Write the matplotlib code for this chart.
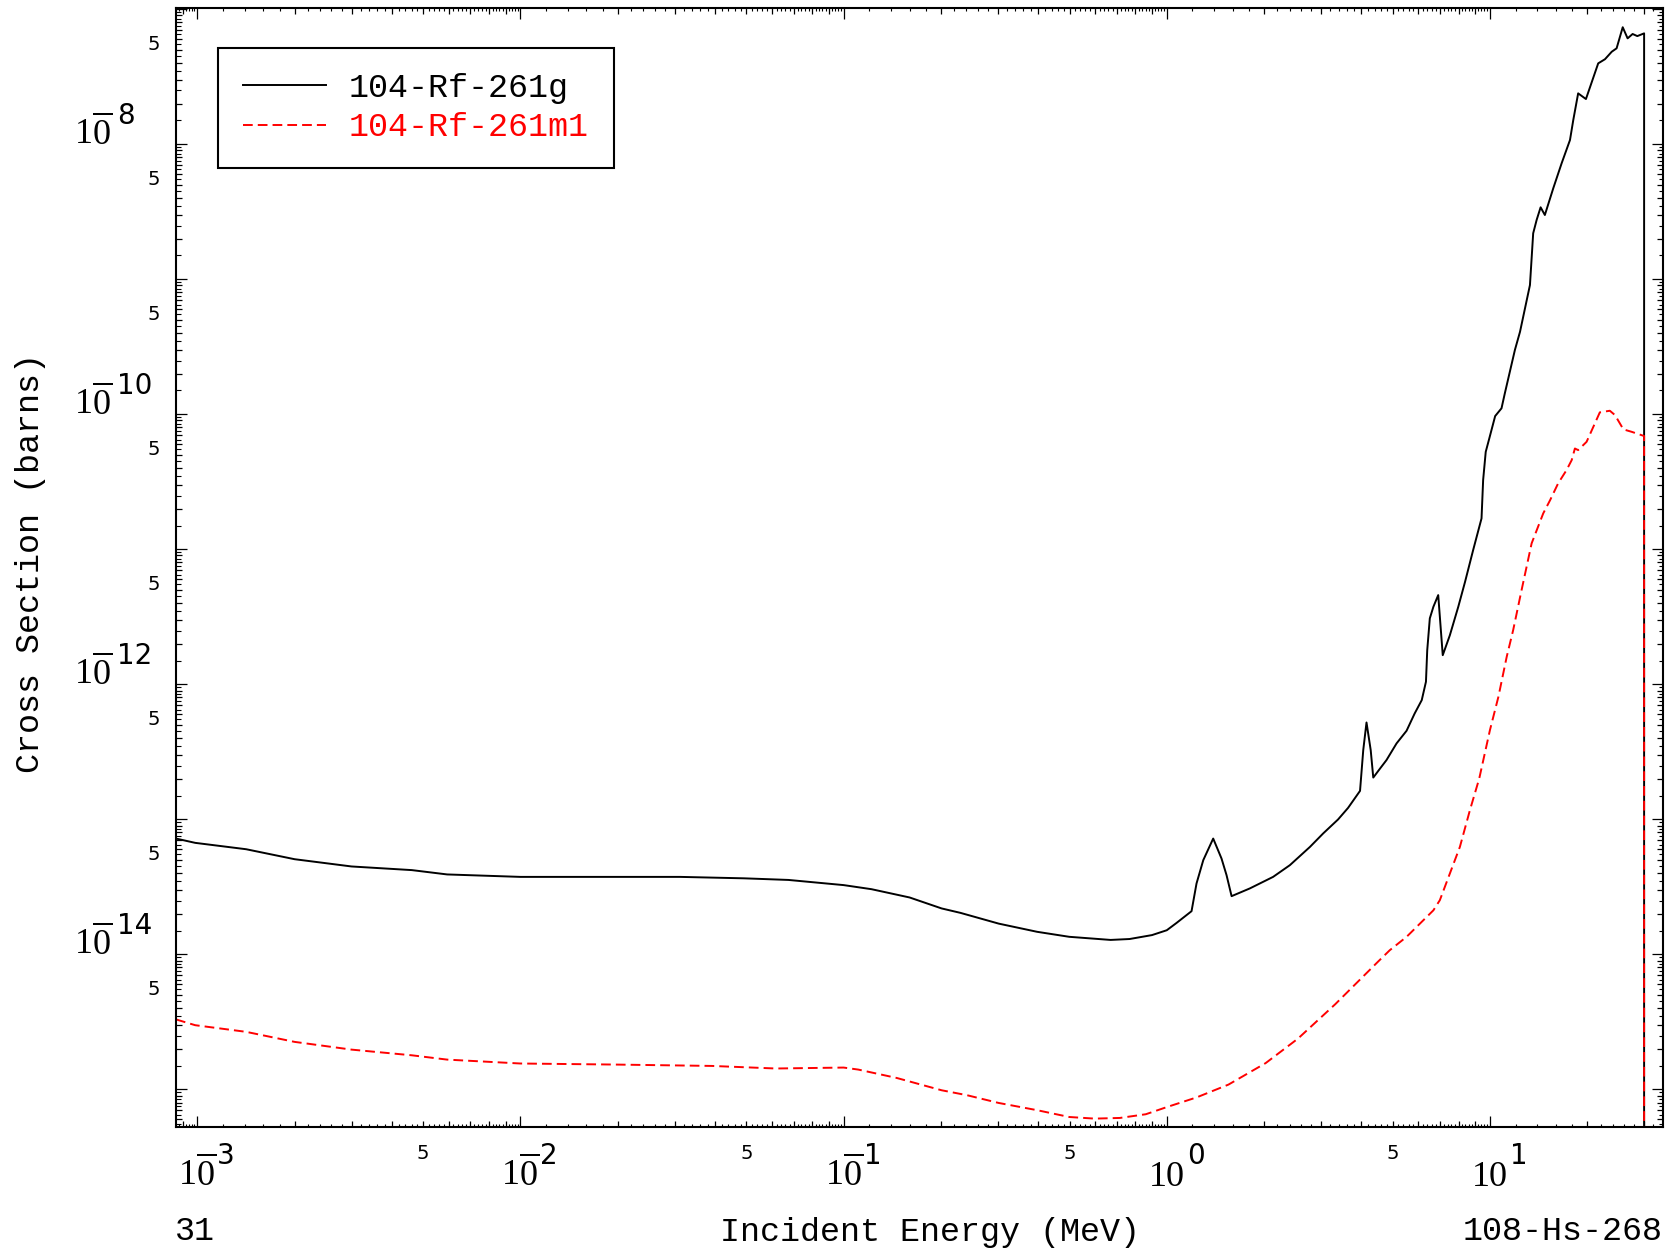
import matplotlib
matplotlib.use('Agg')
import matplotlib.pyplot as plt
from matplotlib.transforms import offset_copy, blended_transform_factory
from matplotlib.ticker import FixedLocator, NullLocator, NullFormatter

# ---------------- data ----------------
energy_g = [8.59e-4, 9.85e-4, 1.416e-3, 2.00e-3, 3.00e-3, 4.61e-3, 5.93e-3, 1.0e-2,
            1.574e-2, 3.12e-2, 4.91e-2, 6.75e-2, 0.100, 0.122, 0.160, 0.201, 0.230,
            0.302, 0.397, 0.499, 0.670, 0.767, 0.900, 1.00, 1.072, 1.193, 1.236,
            1.297, 1.392, 1.477, 1.531, 1.587, 1.807, 2.133, 2.404, 2.773, 3.048,
            3.388, 3.639, 3.963, 4.055, 4.150, 4.276, 4.355, 4.571, 4.786, 5.140,
            5.521, 5.848, 6.152, 6.339, 6.397, 6.516, 6.683, 6.918, 7.145, 7.516,
            7.980, 8.375, 8.872, 9.419, 9.528, 9.705, 9.954, 10.38, 10.86, 11.12,
            11.95, 12.39, 13.30, 13.61, 13.95, 14.35, 14.79, 15.70, 16.67, 17.69,
            18.11, 18.75, 19.82, 21.63, 22.70, 23.82, 24.66, 25.76, 26.67, 27.64,
            28.58, 30.0, 30.0]
xs_g = [7.21e-14, 6.70e-14, 6.01e-14, 5.07e-14, 4.48e-14, 4.21e-14, 3.91e-14, 3.75e-14,
        3.75e-14, 3.75e-14, 3.66e-14, 3.56e-14, 3.26e-14, 3.04e-14, 2.64e-14, 2.19e-14,
        2.03e-14, 1.69e-14, 1.47e-14, 1.35e-14, 1.28e-14, 1.30e-14, 1.39e-14, 1.51e-14,
        1.71e-14, 2.09e-14, 3.35e-14, 4.99e-14, 7.21e-14, 5.13e-14, 3.86e-14, 2.70e-14,
        3.08e-14, 3.75e-14, 4.58e-14, 6.25e-14, 7.87e-14, 9.98e-14, 1.216e-13,
        1.626e-13, 3.26e-13, 5.22e-13, 3.26e-13, 2.04e-13, 2.38e-13, 2.75e-13,
        3.65e-13, 4.53e-13, 6.08e-13, 7.64e-13, 1.045e-12, 1.79e-12, 3.08e-12,
        3.75e-12, 4.58e-12, 1.644e-12, 2.31e-12, 3.75e-12, 5.74e-12, 9.86e-12,
        1.694e-11, 3.26e-11, 5.27e-11, 6.62e-11, 9.70e-11, 1.107e-10, 1.429e-10,
        3.00e-10, 4.08e-10, 9.06e-10, 2.19e-9, 2.75e-9, 3.41e-9, 2.99e-9, 4.71e-9,
        7.23e-9, 1.074e-8, 1.510e-8, 2.38e-8, 2.16e-8, 3.97e-8, 4.26e-8, 4.84e-8,
        5.13e-8, 7.35e-8, 6.08e-8, 6.55e-8, 6.32e-8, 6.62e-8, 1e-20]

energy_m1 = [8.59e-4, 9.85e-4, 1.416e-3, 2.00e-3, 3.00e-3, 4.61e-3, 5.93e-3, 1.0e-2,
             1.977e-2, 3.91e-2, 6.17e-2, 0.100, 0.111, 0.146, 0.201, 0.241, 0.302,
             0.397, 0.499, 0.598, 0.716, 0.861, 1.00, 1.237, 1.552, 2.023, 2.547,
             3.319, 4.508, 4.898, 5.521, 6.223, 6.683, 6.998, 7.516, 8.072, 8.670,
             9.268, 10.0, 10.62, 11.27, 11.80, 12.53, 13.46, 13.77, 14.62, 15.35,
             16.26, 17.26, 17.91, 18.32, 18.75, 19.91, 20.89, 21.88, 23.50, 24.38,
             25.88, 27.48, 30.0, 30.0]
xs_m1 = [3.30e-15, 2.99e-15, 2.67e-15, 2.25e-15, 1.972e-15, 1.79e-15, 1.663e-15,
         1.556e-15, 1.528e-15, 1.493e-15, 1.429e-15, 1.452e-15, 1.403e-15, 1.216e-15,
         9.86e-16, 9.06e-16, 7.94e-16, 7.02e-16, 6.25e-16, 6.08e-16, 6.15e-16,
         6.55e-16, 7.40e-16, 8.73e-16, 1.086e-15, 1.567e-15, 2.38e-15, 4.27e-15,
         8.85e-15, 1.074e-14, 1.349e-14, 1.791e-14, 2.12e-14, 2.52e-14, 3.97e-14,
         6.25e-14, 1.169e-13, 2.01e-13, 4.58e-13, 8.07e-13, 1.600e-12, 2.52e-12,
         4.99e-12, 1.107e-11, 1.274e-11, 1.845e-11, 2.31e-11, 3.08e-11, 3.86e-11,
         4.58e-11, 5.58e-11, 5.43e-11, 6.25e-11, 8.07e-11, 1.033e-10, 1.062e-10,
         9.86e-11, 7.73e-11, 7.41e-11, 6.90e-11, 1e-20]

label_g = '104-Rf-261g'
label_m1 = '104-Rf-261m1'
x_title = 'Incident Energy (MeV)'
y_title = 'Cross Section (barns)'
left_note = '31'
right_note = '108-Hs-268'

x_label_exponents = [-3, -2, -1, 0, 1]
x_five_values = [5e-3, 5e-2, 5e-1, 5e0]
y_label_exponents = [-8, -10, -12, -14]
y_five_values = [5e-8, 5e-9, 5e-10, 5e-11, 5e-12, 5e-13, 5e-14, 5e-15]

# ---------------- figure ----------------
W, H = 1675, 1253
fig = plt.figure(figsize=(W / 100, H / 100), dpi=100)
ax = fig.add_axes([176 / W, 1 - 1127 / H, (1662.5 - 176) / W, (1127 - 7.5) / H])
ax.set_xscale('log')
ax.set_yscale('log')

ax.plot(energy_g, xs_g, color='black', lw=1.4, label=label_g)
ax.plot(energy_m1, xs_m1, color='red', lw=1.4, dashes=(5.0, 2.6), label=label_m1)

ax.set_xlim(8.59e-4, 34.2)
ax.set_ylim(5.27e-16, 1.029e-7)

for s in ax.spines.values():
    s.set_linewidth(1.5)

# ticks: decades (long), integers (medium)
x_major = [10.0 ** k for k in range(-4, 3)]
x_minor = [m * 10.0 ** k for k in range(-4, 2) for m in range(2, 10)]
y_major = [10.0 ** k for k in range(-17, -5)]
y_minor = [m * 10.0 ** k for k in range(-17, -6) for m in range(2, 10)]
ax.xaxis.set_major_locator(FixedLocator(x_major))
ax.xaxis.set_minor_locator(FixedLocator(x_minor))
ax.yaxis.set_major_locator(FixedLocator(y_major))
ax.yaxis.set_minor_locator(FixedLocator(y_minor))
ax.tick_params(which='both', direction='in', top=True, right=True,
               labelbottom=False, labelleft=False, labeltop=False, labelright=False)
ax.tick_params(which='major', length=11 * 0.72, width=0.9)
ax.tick_params(which='minor', length=6 * 0.72, width=0.9)

# small ticks: 0.2 steps on x, 0.5 steps on y
x_small = [m / 10 * 10.0 ** k for k in range(-4, 2) for m in range(12, 100, 2) if m % 10]
y_small = [m / 10 * 10.0 ** k for k in range(-17, -6) for m in range(15, 100, 10)]
for side in ['bottom', 'top']:
    sec = ax.secondary_xaxis(side)
    sec.set_xticks(x_small)
    sec.xaxis.set_minor_locator(NullLocator())
    sec.xaxis.set_major_formatter(NullFormatter())
    sec.tick_params(which='both', direction='in', length=3.5 * 0.72, width=0.8,
                    labelbottom=False, labeltop=False)
    for s in sec.spines.values():
        s.set_visible(False)
for side in ['left', 'right']:
    sec = ax.secondary_yaxis(side)
    sec.set_yticks(y_small)
    sec.yaxis.set_minor_locator(NullLocator())
    sec.yaxis.set_major_formatter(NullFormatter())
    sec.tick_params(which='both', direction='in', length=4.5 * 0.72, width=0.8,
                    labelleft=False, labelright=False)
    for s in sec.spines.values():
        s.set_visible(False)

# ---------------- tick labels as text ----------------
serif = 'Liberation Serif'
sans = 'DejaVu Sans'
bx = blended_transform_factory(ax.transData, ax.transAxes)
by = blended_transform_factory(ax.transAxes, ax.transData)


def off(t, dx, dy):
    return offset_copy(t, fig=fig, x=dx, y=dy, units='dots')


def base_text(k):
    # the minus sign of the exponent is drawn as a bar over the "0"
    return r'$\mathregular{1\overline{0}}$' if k < 0 else '10'


for k in x_label_exponents:
    xv = 10.0 ** k
    ax.text(xv, 0, base_text(k), transform=off(bx, 0, -59), ha='center', va='baseline',
            fontsize=26, family=serif)
    ax.text(xv, 0, str(abs(k)), transform=off(bx, 20, -37), ha='left', va='baseline',
            fontsize=20, family=sans)
for xv in x_five_values:
    ax.text(xv, 0, '5', transform=off(bx, 0, -32), ha='center', va='baseline',
            fontsize=14, family=sans)

for k in y_label_exponents:
    yv = 10.0 ** k
    ax.text(0, yv, base_text(k), transform=off(by, -102, 0), ha='left', va='baseline',
            fontsize=26, family=serif)
    ax.text(0, yv, str(abs(k)), transform=off(by, -59, 20), ha='left', va='baseline',
            fontsize=20, family=sans)
for yv in y_five_values:
    ax.text(0, yv, '5', transform=off(by, -16, 0), ha='right', va='baseline',
            fontsize=14, family=sans)

# ---------------- titles / notes ----------------
mono = 'Liberation Mono'
fig.text(31 / W, 1 - 563 / H, y_title, rotation=90, ha='center', va='center',
         fontsize=24, family=mono)
fig.text(175 / W, 1 - 1240.5 / H, left_note, ha='left', va='baseline', fontsize=24, family=mono)
fig.text(930 / W, 1 - 1240.5 / H, x_title, ha='center', va='baseline', fontsize=24, family=mono)
fig.text(1663 / W, 1 - 1240.5 / H, right_note, ha='right', va='baseline', fontsize=24, family=mono)

# ---------------- legend ----------------
leg = ax.legend(loc='upper left', bbox_to_anchor=((218 - 176) / (1662.5 - 176), (1127 - 48) / (1127 - 7.5)),
                borderaxespad=0, prop={'family': mono, 'size': 24}, frameon=True,
                fancybox=False, edgecolor='black', framealpha=1, handlelength=2.5,
                handletextpad=0.68, borderpad=0.75, labelspacing=0.25, labelcolor='linecolor')
leg.get_frame().set_linewidth(1.5)

fig.savefig('out.png', dpi=100)
